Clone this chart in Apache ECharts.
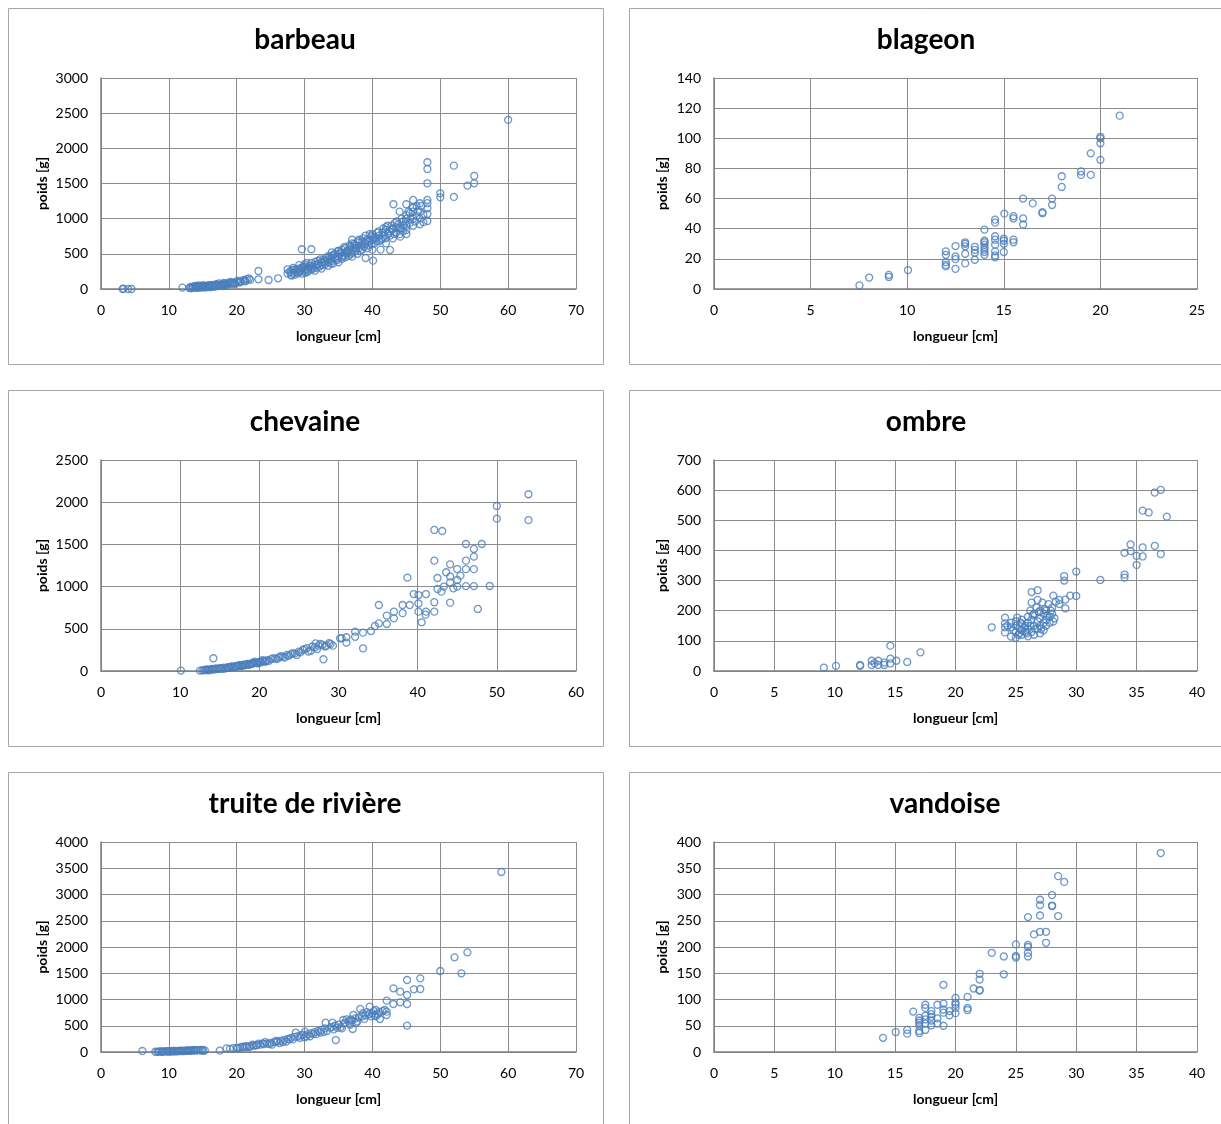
<!DOCTYPE html>
<html>
<head>
<meta charset="utf-8">
<script src="https://cdn.jsdelivr.net/npm/echarts@6/dist/echarts.min.js"></script>
<style>html,body{margin:0;padding:0;background:#fff;}#c{width:1221px;height:1124px;}</style>
</head>
<body>
<div id="c"></div>
<script>
const titles = ['barbeau','blageon','chevaine','ombre','truite de rivière','vandoise'];
const xMax  = [70, 25, 60, 40, 70, 40];
const xStep = [10, 5, 10, 5, 10, 5];
const yMax  = [3000, 140, 2500, 700, 4000, 400];
const yStep = [500, 20, 500, 100, 500, 50];
const xName = 'longueur [cm]';
const yName = 'poids [g]';

const barbeau = [
[3.2,0],[4,0],[4.5,0],[3.3,5],
[12,20],[13,15],[13.2,30],[13.5,20],[13.8,40],[14,25],[14,45],[14.2,30],[14.5,20],[14.5,35],[14.8,40],[15,25],[15,45],[15.2,30],[15.5,40],[15.5,30],[15.8,50],[16,35],[16,55],[16.3,45],[16.5,40],[16.8,60],[17,50],[17,70],[17.3,55],[17.5,45],[17.8,65],[18,60],[18,40],[18.3,75],[18.5,70],[18.8,90],[19,80],[19.3,70],[19.6,85],[20,95],[20.3,100],[20.6,110],[21,130],[21.2,120],[21.5,140],[22,130],[23.2,256],[23.2,138],[24.7,128],[26.1,152],
[13.3,10],[13.6,35],[14.1,15],[14.4,50],[14.7,25],[15.1,55],[15.4,20],[15.7,45],[16.1,25],[16.4,60],[16.7,30],[17.1,40],[17.4,80],[17.7,50],[18.1,85],[18.4,55],[18.7,65],[19.1,100],[19.4,90],[19.8,75],[20.1,120],[20.5,95],[21.3,110],[21.8,150],
[27.5,220],[27.5,280],[27.8,250],[28,200],[28,240],[28.2,270],[28.3,300],[28.5,230],[28.5,200],[28.8,260],[29,220],[29,290],[29.2,340],[29.3,250],[29.5,300],[29.6,565],[29.7,220],[30,260],[30,320],[30,350],[30.2,280],[30.4,240],[30.5,300],[30.7,330],[31,565],[31,280],[31,370],[31.2,310],[31.5,260],[31.5,340],[31.8,300],[32,350],[32,400],[32.2,320],[32.5,380],[32.5,290],[32.8,420],[33,350],[33,400],[33.2,450],[33.5,380],[33.5,330],[33.8,420],[34,400],[34,470],[34,520],[34.2,360],[34.5,440],[34.5,500],[34.8,410],[35,460],[35,540],[35,380],[35.2,500],[35.5,430],[35.5,560],[35.8,480],[36,520],[36,450],[36,580],[36.2,500],[36.5,470],[36.5,550],[36.8,600],[37,520],[37,700],[37,650],[37,460],[37.2,580],[37.5,540],[37.5,620],[37.8,500],[38,580],[38,660],[38,700],[38.3,620],[38.5,560],[38.5,680],[38.8,600],[39,640],[39,440],[39,760],[39.2,700],[39.5,620],[39.5,680],[39.8,750],[40,700],[40,560],[40.1,403],[40,780],[40.3,650],[40.5,720],[40.7,800],[41,680],[41,760],[41.2,560],[41.5,720],[41.5,800],[41.8,760],[42,650],[42,840],[42,880],[42.3,780],[42.6,555],[42.5,820],[42.8,900],[43,720],[43,860],[43.1,1205],[43.3,940],[43.5,800],[43.5,880],[43.8,920],[44,780],[44.1,744],[44,1100],[44.2,860],[44.5,960],[44.5,820],[45,782],[45,839],[45,900],[45,1000],[45,1050],[45,1205],[45.5,940],[45.5,1080],[46,900],[46,1000],[46,1100],[46,1266],[46,1160],[46.5,1040],[46.5,1180],[47,920],[47,1219],[47,1100],[47,1000],[47.5,1060],[48.1,967],[48.1,1067],[48.1,1147],[48.1,1266],[48.1,1220],[48.1,1503],[48.1,1707],[48.1,1802],[50,1361],[50,1304],[52,1754],[52,1309],[54,1470],[55,1607],[55,1503],[60,2404],
[28.1,190],[28.6,280],[29.1,240],[29.4,270],[29.8,310],[30.1,230],[30.3,370],[30.6,260],[30.9,330],[31.3,290],[31.6,390],[31.9,350],[32.3,420],[32.6,340],[32.9,380],[33.3,420],[33.6,470],[33.9,360],[34.3,490],[34.6,420],[34.9,540],[35.3,520],[35.6,460],[35.9,600],[36.3,540],[36.6,620],[36.9,500],[37.3,640],[37.6,580],[37.9,680],[38.2,540],[38.6,720],[38.9,660],[39.3,580],[39.6,780],[39.9,640],[40.2,740],[40.6,680],[40.9,820],[41.3,700],[41.6,860],[41.9,720],[42.2,900],[42.6,760],[42.9,840],[43.2,780],[43.6,960],[43.9,860],[44.3,1000],[44.6,900],[44.9,960],[45.3,1100],[45.6,1000],[45.9,1160],[46.3,960],[46.7,1100],[47.2,1180],[47.5,950]
];

const blageon = [
[7.53,2.4],[8.03,7.6],[9.05,9.4],[9.05,8],[10.04,12.5],
[12,25],[12,22.7],[12,17.8],[12,16],[12,15],
[12.5,28.5],[12.5,21.6],[12.5,19.8],[12.5,13.4],
[13,31],[13,30],[13,28.3],[13,23.4],[13,17],
[13.5,28],[13.5,26],[13.5,24],[13.5,19.4],
[14,39.4],[14,32],[14,31],[14,29.4],[14,27.6],[14,26],[14,24.5],[14,22.7],
[14.55,46],[14.55,44],[14.55,35],[14.55,32.7],[14.55,29.4],[14.55,25],[14.55,22.3],[14.55,21],
[15.03,50],[15,33.4],[15,32],[15,30],[15,24.5],
[15.5,48.3],[15.5,46.8],[15.5,32.7],[15.5,31],
[16,60],[16,46.8],[16,42.8],[16.5,56.8],[17,51],[17,50.3],[17.5,60],[17.5,55.7],
[18,74.8],[18,67.7],[19,78],[19,75.7],[19.5,90],[19.5,75.7],
[20,101],[20,100],[20,96.7],[20,85.7],[21,115]
];

const chevaine = [
[10.1,5],[12.5,5],[13,10],[13.2,15],[13.5,20],[13.8,15],[14,25],[14.2,151],[14.3,20],[14.5,30],[14.8,25],[15,35],[15.2,30],[15.5,40],[15.8,35],[16,45],[16.2,40],[16.5,55],[16.8,50],[17,60],[17.2,55],[17.5,70],[17.8,65],[18,75],[18.2,70],[18.5,85],[18.8,80],[19,90],[19.2,95],[19.5,100],[19.8,90],[20,110],[20.2,105],[20.5,120],[20.8,115],[21,130],[21.5,140],[22,150],[22.5,160],[23,170],[23.5,190],[24,200],[24.5,210],[25,230],[25.5,250],[26,270],[26.5,240],[27.1,328],[27,280],[27.5,300],[28.1,139],[28,310],[28.5,300],[29,320],
[12.8,8],[13.3,12],[13.6,8],[14.1,18],[14.6,22],[15.1,28],[15.4,25],[15.7,32],[16.1,38],[16.4,48],[16.7,42],[17.1,52],[17.4,62],[17.7,58],[18.1,68],[18.4,80],[18.7,72],[19.1,85],[19.4,110],[19.7,95],[20.1,100],[20.4,130],[20.7,110],[21.2,120],[21.7,150],[22.2,140],[22.7,175],[23.2,160],[23.7,180],[24.2,210],[24.7,190],[25.2,220],[25.7,260],[26.2,230],[26.7,290],[27.3,260],[27.7,320],[28.3,290],[28.8,330],[29.3,300],
[30.2,387],[30.4,390],[31,400],[31,336],[32.1,466],[32.1,406],[33.1,454],[33.1,269],[34.1,474],[34.6,533],[35.1,782],[35.1,565],[36.1,656],[36.1,557],[37,703],[37,624],[38.1,782],[38.1,685],[38.7,1106],[39,782],[39.5,912],[40.1,900],[40.1,800],[40.1,703],[40.5,577],[41.05,912],[41.05,703],[41,668],[42.1,815],[42.1,703],[42.1,1307],[42.1,1671],[43.1,1659],[42.5,1102],[42.5,972],[43,940],[43.3,1000],[43.6,1170],[44.1,1120],[44.1,1264],[44.1,810],[44.1,1050],[44.5,980],[45,1208],[45,1078],[45,1000],[45.4,1130],[46.1,1006],[46.1,1207],[46.1,1307],[46.1,1505],[47.1,1006],[47.1,1207],[47.1,1446],[47.1,1355],[47.6,735],[48.1,1505],[49.1,1007],[50,1955],[50,1805],[54,2094],[54,1787]
];

const ombre = [
[9.1,11],[10.1,17],[12.1,20],[12.1,17],[13.06,34],[13.06,20],[13.3,26],[13.6,34],[13.6,20],[14.1,28],[14.1,20],[14.6,41],[14.6,25],[14.6,84],[15.1,34],[16,30],[17.1,62],
[23,145],[24.1,177],[24.1,158],[24.1,145],[24.1,128],[24.6,145],[24.6,114],[24.6,160],[25.1,177],[25,110],[25,130],[25,150],[25,165],[25.3,125],[25.3,140],[25.5,120],[25.5,135],[25.5,155],[25.5,170],[25.8,130],[25.8,150],[26,115],[26,140],[26,160],[26,180],[26.3,262],[26.3,227],[26.3,130],[26.3,170],[26.5,120],[26.5,150],[26.5,190],[26.8,268],[26.8,236],[26.8,140],[26.8,165],[27,125],[27,150],[27,175],[27,200],[27.2,227],[27.3,135],[27.3,160],[27.3,190],[27.5,150],[27.5,170],[27.5,200],[27.7,222],[27.8,160],[27.8,180],[28.1,250],[28.1,164],[28,190],[28,210],[28.6,236],[28.6,222],[29.1,237],[29.1,208],
[24.3,150],[24.8,135],[25.2,120],[25.4,160],[25.7,145],[25.9,125],[26.2,150],[26.4,185],[26.6,140],[26.9,195],[27.1,140],[27.4,205],[27.6,185],[27.9,200],[28.2,175],[28.3,230],[26.7,210],[26.2,200],
[29,315],[29,300],[30,330],[30,249],[29.5,250],[32,302],[34,320],[34,310],[34.5,420],[34,392],[34.5,398],[35,382],[35.5,380],[35,352],[35.5,410],[36.5,415],[37,388],[35.5,532],[36,526],[36.5,592],[37,601],[37.5,512]
];

const truite = [
[6.1,19],[8,5],[8.5,8],[9,10],[9,3],[9.5,12],[9.8,6],[10,15],[10.2,8],[10.5,18],[10.8,10],[11,20],[11.2,12],[11.5,22],[11.8,15],[12,25],[12.2,18],[12.5,28],[12.8,20],[13,30],[13.3,25],[13.5,32],[13.8,28],[14,35],[14.5,30],[15,38],[15.3,32],[17.5,25],[18.5,70],[19,60],[19.5,75],[20,80],[20.5,90],[21,85],[21.3,110],[21.5,100],[22,110],[22.3,140],[22.5,120],[23,130],[23.2,160],[23.5,140],[24,150],[24.2,190],[24.5,160],[25,175],[25.2,140],[25.5,190],[26,200],[26.3,170],[26.5,215],[27,230],[27.3,200],[27.5,250],[28,270],[28.3,240],[28.7,368],[29,300],[29.3,270],[29.5,320],[30.06,387],[30,280],[30.5,340],[30.8,300],[31,360],[31.5,380],[31.7,340],[32,400],[32.3,370],[32.5,420],[33,450],[33.3,400],[33.1,558],[34.1,558],[34.6,228],[34,480],[34.3,430],[34.5,500],[35,520],[35.3,470],[35.7,610],[35.5,450],[36,560],[36.2,622],[36.5,580],[36.7,520],[37,600],[37.1,438],[37.2,705],[37.5,640],[37.8,580],[38,660],[38.2,820],[38.5,680],[38.8,630],[39,700],[39.6,863],[39.5,720],[39.8,680],[40,740],[40.3,700],[40.5,800],[40.5,680],[41,760],[41.1,629],[41.5,780],[42.1,978],[42.1,768],[42.1,705],[43.1,1213],[43.1,914],[44.1,1149],[44.1,946],[45.1,1371],[45.1,1086],[45.1,914],[45.1,502],[46.1,1194],[47.05,1403],[47.05,1200],[50,1543],[52.1,1803],[53.1,1498],[54,1898],[59,3429],
[8.3,2],[8.7,12],[9.2,6],[9.7,16],[10.3,12],[10.7,22],[11.3,16],[11.7,26],[12.3,22],[12.7,32],[13.2,28],[13.7,38],[14.2,30],[14.7,40],[15,20],[20.2,70],[20.8,100],[21.8,95],[22.8,125],[23.8,165],[24.8,150],[25.8,210],[26.8,190],[27.8,240],[28.5,290],[29.8,330],[30.3,300],[31.3,340],[32.8,380],[33.8,460],[34.8,460],[35.8,540],[36.8,620],[37.6,560],[38.6,740],[39.2,760],[40.2,780],[40.8,720],[41.8,800]
];

const vandoise = [
[14,27],[15.05,38],[16,42],[16,35],[16.5,77],
[17,65],[17,60],[17,56],[17,50],[17,40],[17,36],
[17.5,90],[17.5,84],[17.5,69],[17.5,62],[17.5,54],[17.5,42],
[18,78],[18,72],[18,67],[18,60],[18,51],
[18.5,90],[18.5,64],[18.5,54],
[19,128],[19,92],[19,81],[19,75],[19,50],
[19.5,78],[19.5,70],
[20,103],[20,94],[20,90],[20,84],[20,74],
[21,105],[21,84],[21,80],[21.5,121],
[22,149],[22,138],[22,118],[22,117],
[23,189],[24,182],[24,148],
[25,205],[25,183],[25,180],
[26,257],[26,204],[26,200],[26,189],[26,182],
[26.5,224],[27,290],[27,280],[27,260],[27,229],
[27.5,229],[27.5,208],[28,299],[28,279],[28,278],
[28.5,335],[28.5,259],[29,324],[37,379]
];

const datasets = [barbeau, blageon, chevaine, ombre, truite, vandoise];

const gridPos = [
  {left:101, top:78,  width:475, height:211},
  {left:714, top:78,  width:483, height:211},
  {left:101, top:460, width:475, height:211},
  {left:714, top:460, width:483, height:211},
  {left:101, top:842, width:475, height:210},
  {left:714, top:842, width:483, height:210}
];
const frames = [
  [8.5, 8.5], [629.5, 8.5], [8.5, 390.5], [629.5, 390.5], [8.5, 772.5], [629.5, 772.5]
];
const titlePos = [[305,40],[926,40],[305,422],[926,422],[305,804],[945,804]];
const FONT = 'Lato, "Open Sans", sans-serif';
const blue = '#4a7ebb';

const chart = echarts.init(document.getElementById('c'), null, {renderer:'canvas'});
const graphics = [];
frames.forEach(f => graphics.push({
  type:'rect', shape:{x:f[0], y:f[1], width:595, height:356},
  style:{fill:'none', stroke:'#a6a6a6', lineWidth:1}, silent:true, z:-1
}));
titles.forEach((t,i) => graphics.push({
  type:'text', x:titlePos[i][0], y:titlePos[i][1],
  style:{text:t, font:'bold 28px ' + FONT, fill:'#000', textAlign:'center', textVerticalAlign:'middle'},
  silent:true
}));

const option = {
  animation:false,
  backgroundColor:'#fff',
  graphic: graphics,
  grid: gridPos.map(g => Object.assign({containLabel:false}, g)),
  xAxis: xMax.map((m,i) => ({
    type:'value', gridIndex:i, min:0, max:m, interval:xStep[i],
    name:xName, nameLocation:'middle', nameGap:40,
    nameTextStyle:{fontFamily:FONT, fontWeight:'bold', fontSize:14, color:'#000'},
    axisLine:{show:true, onZero:false, lineStyle:{color:'#808080', width:1.5}},
    axisTick:{show:false},
    axisLabel:{fontFamily:FONT, fontSize:14, color:'#000', margin:14, formatter: v => String(v)},
    splitLine:{show:true, lineStyle:{color:'#8c8c8c', width:1}}
  })),
  yAxis: yMax.map((m,i) => ({
    type:'value', gridIndex:i, min:0, max:m, interval:yStep[i],
    name:yName, nameLocation:'middle', nameGap:(i%2===0 ? 52 : 45), nameRotate:90,
    nameTextStyle:{fontFamily:FONT, fontWeight:'bold', fontSize:14, color:'#000'},
    axisLine:{show:true, onZero:false, lineStyle:{color:'#808080', width:1.5}},
    axisTick:{show:false},
    axisLabel:{fontFamily:FONT, fontSize:14, color:'#000', margin:13, formatter: v => String(v)},
    splitLine:{show:true, lineStyle:{color:'#8c8c8c', width:1}}
  })),
  series: datasets.map((d,i) => ({
    type:'scatter', xAxisIndex:i, yAxisIndex:i, data:d,
    symbol:'circle', symbolSize:7,
    itemStyle:{color:'rgba(0,0,0,0)', borderColor:blue, borderWidth:1.3},
    emphasis:{disabled:true}, silent:true
  }))
};
chart.setOption(option);
</script>
</body>
</html>
